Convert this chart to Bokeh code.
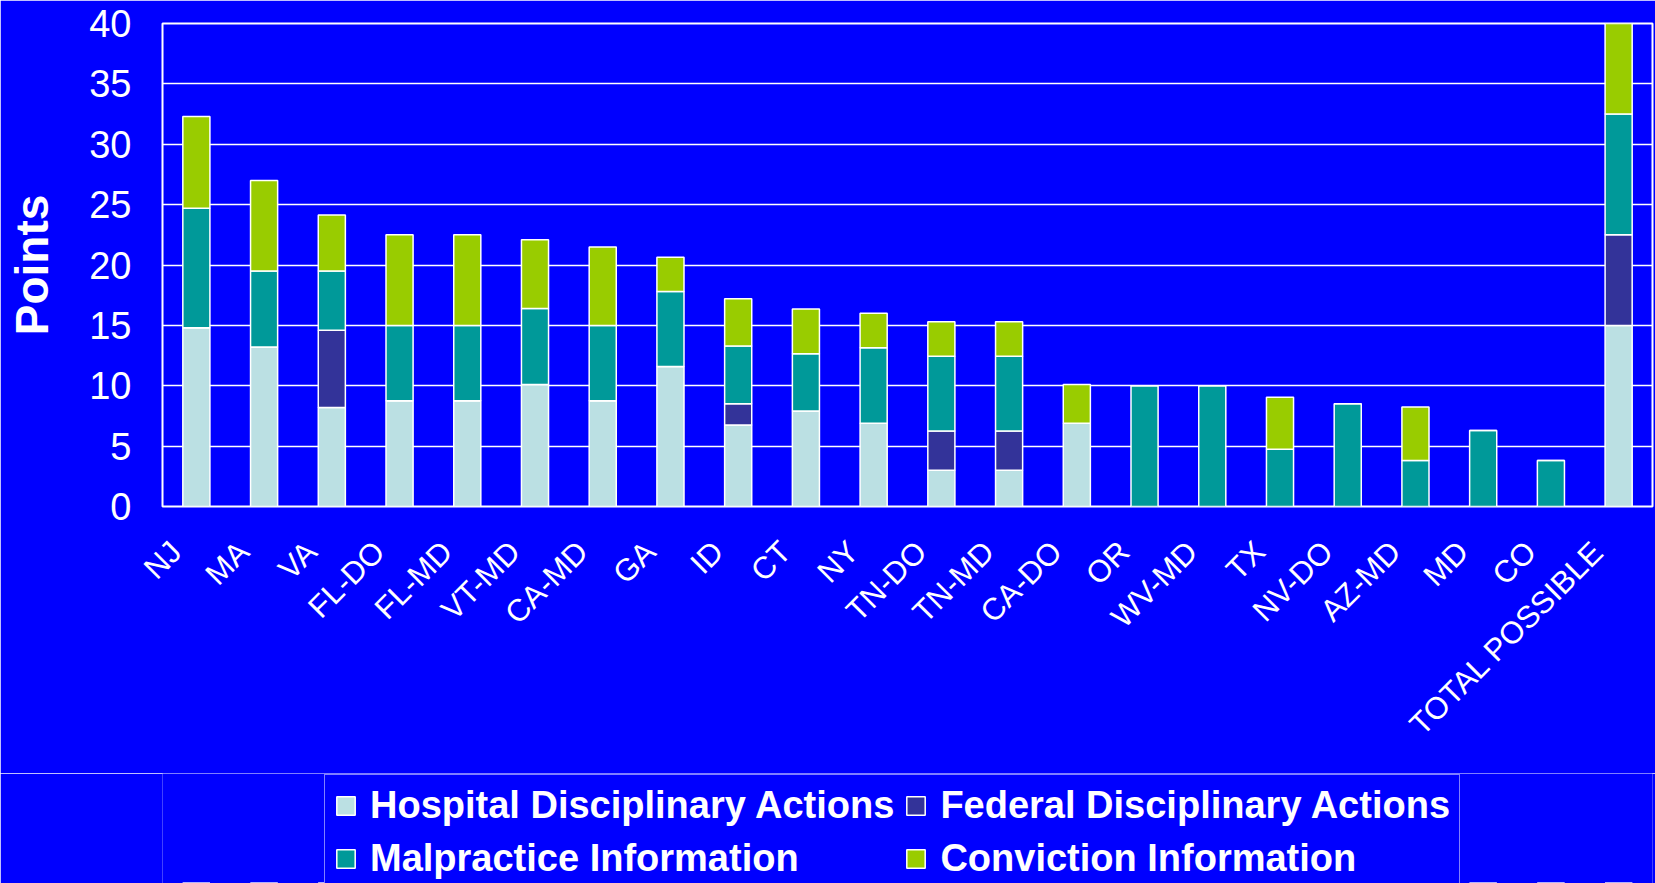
import math
from bokeh.plotting import figure
from bokeh.layouts import column
from bokeh.models import (Range1d, SingleIntervalTicker, FixedTicker, LinearAxis,
                          Legend, LegendItem)
from bokeh.embed import file_html
from bokeh.resources import INLINE

categories = ["NJ", "MA", "VA", "FL-DO", "FL-MD", "VT-MD", "CA-MD", "GA", "ID", "CT", "NY",
              "TN-DO", "TN-MD", "CA-DO", "OR", "WV-MD", "TX", "NV-DO", "AZ-MD", "MD", "CO",
              "TOTAL POSSIBLE"]
hospital = [14.8, 13.2, 8.2, 8.75, 8.75, 10.1, 8.75, 11.6, 6.75, 7.9, 6.9,
            3.0, 3.0, 6.9, 0, 0, 0, 0, 0, 0, 0, 15]
federal = [0, 0, 6.4, 0, 0, 0, 0, 0, 1.75, 0, 0,
           3.25, 3.25, 0, 0, 0, 0, 0, 0, 0, 0, 7.5]
malpractice = [9.9, 6.3, 4.9, 6.25, 6.25, 6.3, 6.25, 6.2, 4.8, 4.75, 6.25,
               6.2, 6.2, 0, 10, 10, 4.75, 8.5, 3.8, 6.3, 3.8, 10]
conviction = [7.6, 7.5, 4.65, 7.5, 7.5, 5.7, 6.5, 2.85, 3.9, 3.7, 2.85,
              2.85, 2.85, 3.2, 0, 0, 4.3, 0, 4.45, 0, 0, 7.5]

series = ["Hospital Disciplinary Actions", "Federal Disciplinary Actions",
          "Malpractice Information", "Conviction Information"]
colors = ["#BBE0E3", "#333399", "#009999", "#99CC00"]
BG = "#0000FF"
FONT = "Liberation Sans"

n = len(categories)
slots = list(range(n))          # one slot per category, in order
data = dict(slot=slots, cat=categories, hospital=hospital, federal=federal,
            malpractice=malpractice, conviction=conviction)
stack_keys = ["hospital", "federal", "malpractice", "conviction"]

W = 1655
H1 = 773
H2 = 883 - H1

p = figure(x_range=Range1d(-0.5, n - 0.5), y_range=Range1d(0, 40),
           width=W, height=H1, output_backend="svg", toolbar_location=None,
           x_axis_location=None,
           background_fill_color=BG, border_fill_color=BG,
           min_border_left=162, min_border_right=3, min_border_top=23,
           min_border_bottom=H1 - 506)

p.vbar_stack(stack_keys, x="slot", width=0.4, source=data, color=colors,
             line_color="white", line_width=1.5)

p.outline_line_color = "white"
p.outline_line_width = 2
p.xgrid.grid_line_color = None
p.ygrid.grid_line_color = "white"
p.ygrid.grid_line_width = 1.5

# category labels: axis over the same slots, labels sit slightly left of each bar
shift = 0.3
p.extra_x_ranges = {"labels": Range1d(-0.5 + shift, n - 0.5 + shift)}
xaxis = LinearAxis(x_range_name="labels", ticker=FixedTicker(ticks=slots),
                   major_label_overrides={i: c for i, c in zip(slots, categories)})
p.add_layout(xaxis, "below")

yax = p.yaxis[0]
yax.ticker = SingleIntervalTicker(interval=5)
for ax in (xaxis, yax):
    ax.axis_line_color = None
    ax.major_tick_line_color = None
    ax.minor_tick_line_color = None
    ax.major_label_text_color = "white"
    ax.major_label_text_font = FONT

yax.major_label_text_font_size = "38px"
yax.major_label_standoff = 25
yax.axis_label = "Points"
yax.axis_label_text_font = FONT
yax.axis_label_text_font_style = "bold"
yax.axis_label_text_font_size = "46px"
yax.axis_label_text_color = "white"
yax.axis_label_standoff = 28

xaxis.major_label_text_font_size = "31px"
xaxis.major_label_orientation = math.pi / 4
xaxis.major_label_standoff = 34

# legend strip below the chart (its box runs past the bottom edge, as in the original)
p2 = figure(width=W, height=H2, x_range=p.x_range, y_range=Range1d(1000, 1001),
            output_backend="svg", toolbar_location=None,
            x_axis_location=None, y_axis_location=None, min_border=0,
            background_fill_color=BG, border_fill_color=BG, outline_line_color=None)
p2.grid.visible = False
keys = p2.vbar_stack(stack_keys, x="slot", width=0.4, source=data, color=colors,
                     line_color="white", line_width=1.5)

items = [LegendItem(label=s, renderers=[r]) for s, r in zip(series, keys)]
legend = Legend(items=items, location=(162, -7), orientation="horizontal", ncols=2,
                background_fill_color=BG, background_fill_alpha=1.0,
                border_line_color="white", border_line_width=1.5,
                label_text_color="white", label_text_font=FONT,
                label_text_font_style="bold", label_text_font_size="38px",
                glyph_width=23, glyph_height=23, label_standoff=13,
                padding=9, spacing=10, margin=0)
p2.add_layout(legend, "center")

layout = column(p, p2, spacing=0)
open("out.html", "w").write(file_html(layout, INLINE))
